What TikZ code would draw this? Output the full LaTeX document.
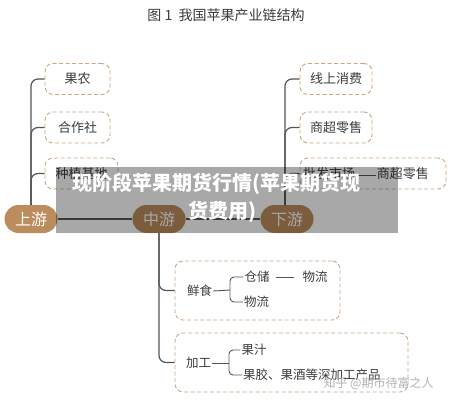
\documentclass[tikz,border=0pt]{standalone}
\usepackage{fontspec}
\setmainfont{Noto Sans CJK SC}
\definecolor{boxc}{RGB}{200,168,132}
\definecolor{linec}{RGB}{85,85,85}
\definecolor{txt}{RGB}{60,60,60}
\definecolor{upc}{RGB}{187,140,92}
\tikzset{
 leaf/.style={draw=boxc, dash pattern=on 4pt off 2.5pt, rounded corners=8pt, line width=0.9pt,
   minimum height=31pt, inner sep=0pt, font=\fontsize{13}{15}\selectfont, text=txt},
 stage/.style={rounded corners=14pt, minimum width=53pt, minimum height=28pt, text=white,
   font=\fontsize{16}{18}\selectfont, inner sep=0pt, fill=upc},
 link/.style={draw=linec, line width=1.2pt, rounded corners=7pt},
 thinlink/.style={draw=linec, line width=0.9pt, rounded corners=4pt},
 itext/.style={font=\fontsize{12.5}{14}\selectfont, text=txt, inner sep=1pt},
}
\begin{document}
\begin{tikzpicture}[x=1pt,y=-1pt]
\useasboundingbox (0,0) rectangle (455,401);
\fill[white] (0,0) rectangle (455,401);
\node[font=\fontsize{14}{16}\selectfont, text=txt] (title) at (226,15) {图 1\ \ 我国苹果产业链结构};
% stages
\node[stage] (shangyou) at (31,219) {上游};
\node[stage] (zhongyou) at (159,219) {中游};
\node[stage] (xiayou) at (287,219) {下游};
% upstream leaves
\node[leaf, minimum width=65pt] (guonong) at (77.5,79) {果农};
\node[leaf, minimum width=65pt] (hezuoshe) at (77.5,127.5) {合作社};
\node[leaf, minimum width=73pt] (jidi) at (81.5,173.5) {种植基地};
% downstream leaves
\node[leaf, minimum width=72pt] (xianshang) at (336,79) {线上消费};
\node[leaf, minimum width=72pt] (shangchao) at (336,127.5) {商超零售};
\node[leaf, minimum width=146pt, text width=140pt, align=left] (pifa) at (373,173.5) {批发市场\hspace{22pt}商超零售};
% midstream boxes
\node[leaf, minimum width=165pt, minimum height=59pt] (xsbox) at (257.5,290.5) {};
\node[leaf, minimum width=233pt, minimum height=59pt] (jgbox) at (291.5,362.5) {};
% connectors
\draw[link] (shangyou.east) -- (zhongyou.west);
\draw[link] (zhongyou.east) -- (xiayou.west);
\draw[link] (shangyou.north) |- (guonong.west);
\draw[link] (shangyou.north) |- (hezuoshe.west);
\draw[link] (shangyou.north) |- (jidi.west);
\coordinate (xytop) at (285,205);
\draw[link] (xytop) |- (xianshang.west);
\draw[link] (xytop) |- (shangchao.west);
\draw[link] (xytop) |- (pifa.west);
\draw[link] (zhongyou.south) |- (xsbox.west);
\draw[link] (zhongyou.south) |- (jgbox.west);
\draw[thinlink] (348,175) -- (376,175);
% inner of 鲜食
\node[itext] (xs) at (199.5,291) {鲜食};
\node[itext] (cc) at (257,277) {仓储};
\node[itext] (wl1) at (315,277) {物流};
\node[itext] (wl2) at (256.5,302) {物流};
\coordinate (xsb) at (230,290);
\draw[thinlink] (xs.east) -- (xsb);
\draw[thinlink] (cc.west) -| (xsb) |- (wl2.west);
\draw[thinlink] (cc.east) ++(5,0.5) -- ++(18,0);
% inner of 加工
\node[itext] (jg) at (198.5,363) {加工};
\node[itext] (gz) at (254,350) {果汁};
\node[itext, anchor=west] (gj) at (242,375) {果胶、果酒等深加工产品};
\coordinate (jgb) at (229,363);
\draw[thinlink] (jg.east) -- (jgb);
\draw[thinlink] (gz.west) -| (jgb) |- (gj.west);
% watermark
\node[font=\fontsize{12}{14}\selectfont, text=black!30, anchor=west] (wm) at (320,383) {知乎 @期市待富之人};
% banner
\fill[black, opacity=0.34] (56,167) rectangle (398,233);
\node[font=\fontsize{20}{22}\selectfont\bfseries, text=white] (b1) at (216,184) {现阶段苹果期货行情(苹果期货现};
\node[font=\fontsize{20}{22}\selectfont\bfseries, text=white] (b2) at (222,212) {货费用)};
\end{tikzpicture}
\end{document}
